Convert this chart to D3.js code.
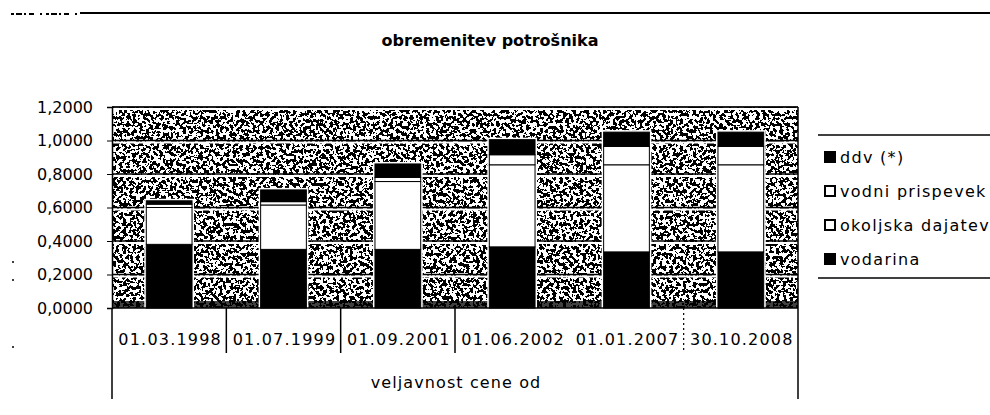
<!DOCTYPE html>
<html><head><meta charset="utf-8">
<script src="https://cdn.jsdelivr.net/npm/d3@7"></script>
<style>
html,body{margin:0;padding:0;background:#fff;}
svg{display:block;font-family:"DejaVu Sans",sans-serif;}
</style></head><body>
<svg id="chart" width="990" height="415"></svg>
<script>
// ---- data ----
const chartTitle = "obremenitev potrošnika";
const xAxisTitle = "veljavnost cene od";
const categories = ["01.03.1998","01.07.1999","01.09.2001","01.06.2002","01.01.2007","30.10.2008"];
const seriesNames = ["vodarina","okoljska dajatev","vodni prispevek","ddv (*)"];
const vodarina        = [0.380, 0.350, 0.350, 0.365, 0.335, 0.335];
const okoljskaDajatev = [0.220, 0.265, 0.405, 0.490, 0.520, 0.520];
const vodniPrispevek  = [0.020, 0.020, 0.025, 0.060, 0.110, 0.110];
const ddv             = [0.020, 0.070, 0.080, 0.090, 0.085, 0.085];
const yTicks = [0, 0.2, 0.4, 0.6, 0.8, 1.0, 1.2];

// ---- styles ----
const seriesFill = ["#000", "#fff", "#fff", "#000"];

const svg = d3.select("#chart");
const plot = {left: 112, right: 798, top: 107, bottom: 308};

const x = d3.scaleBand().domain(categories).range([plot.left, plot.right])
  .paddingInner(0.6).paddingOuter(0.3);
const xSlot = d3.scaleBand().domain(categories).range([plot.left, plot.right]).padding(0);
const y = d3.scaleLinear().domain([0, 1.2]).range([plot.bottom, plot.top]);

const rows = categories.map((c, i) => ({
  cat: c,
  "vodarina": vodarina[i],
  "okoljska dajatev": okoljskaDajatev[i],
  "vodni prispevek": vodniPrispevek[i],
  "ddv (*)": ddv[i]
}));
const stack = d3.stack().keys(seriesNames)(rows);

// ---- texture filter (scanned grey fill look) ----
const defs = svg.append("defs");
const f = defs.append("filter").attr("id", "scan")
  .attr("filterUnits", "userSpaceOnUse")
  .attr("x", plot.left).attr("y", plot.top)
  .attr("width", plot.right - plot.left).attr("height", plot.bottom - plot.top);
f.append("feTurbulence").attr("type", "fractalNoise").attr("baseFrequency", "0.3")
  .attr("numOctaves", 2).attr("seed", 7).attr("result", "t");
f.append("feColorMatrix").attr("type", "matrix")
  .attr("values", "1 0 0 0 0  1 0 0 0 0  1 0 0 0 0  0 0 0 0 1");
const ct = f.append("feComponentTransfer");
["feFuncR","feFuncG","feFuncB"].forEach(n => ct.append(n).attr("type", "discrete")
  .attr("tableValues", "0 0 0 0 0 1 1 1 1 1"));

// top rule and scan junk
svg.append("line").attr("x1", 80).attr("x2", 990).attr("y1", 13).attr("y2", 13)
  .attr("stroke", "#000").attr("stroke-width", 2);
svg.append("line").attr("x1", 11).attr("x2", 78).attr("y1", 14).attr("y2", 14)
  .attr("stroke", "#000").attr("stroke-width", 2).attr("stroke-dasharray", "3,2,6,2,2,3,5,6,2,4");
[262, 280, 347].forEach(v => svg.append("circle").attr("cx", 13).attr("cy", v).attr("r", 1).attr("fill", "#000"));

// title
svg.append("text").attr("x", 490).attr("y", 46).attr("text-anchor", "middle")
  .attr("font-size", 16).attr("font-weight", "bold")
  .text(chartTitle);

// plot background texture
svg.append("rect").attr("x", plot.left).attr("y", plot.top)
  .attr("width", plot.right - plot.left).attr("height", plot.bottom - plot.top)
  .attr("fill", "#fff").attr("filter", "url(#scan)");
svg.append("rect").attr("x", plot.left).attr("y", y(0) - 7)
  .attr("width", plot.right - plot.left).attr("height", 7)
  .attr("fill", "#000").attr("opacity", 0.75);

// gridlines
const grid = svg.append("g");
yTicks.filter(t => t > 0).forEach(t => {
  grid.append("line").attr("x1", plot.left).attr("x2", plot.right)
    .attr("y1", y(t) + 2).attr("y2", y(t) + 2).attr("stroke", "#fff").attr("stroke-width", 2);
  grid.append("line").attr("x1", plot.left).attr("x2", plot.right)
    .attr("y1", y(t)).attr("y2", y(t)).attr("stroke", "#000").attr("stroke-width", 1.5);
});

// bar halos
svg.append("g").selectAll("rect").data(rows).join("rect")
  .attr("x", d => x(d.cat) - 2).attr("width", x.bandwidth() + 4)
  .attr("y", (d, i) => y(stack[stack.length - 1][i][1]) - 2)
  .attr("height", (d, i) => y(0) - y(stack[stack.length - 1][i][1]) + 2)
  .attr("fill", "#fff");

// bars
svg.append("g").selectAll("g").data(stack).join("g")
  .attr("fill", (d, i) => seriesFill[i])
  .selectAll("rect").data(d => d).join("rect")
  .attr("x", d => x(d.data.cat)).attr("width", x.bandwidth())
  .attr("y", d => y(d[1])).attr("height", d => y(d[0]) - y(d[1]))
  .attr("stroke", "#000").attr("stroke-width", 1);

// plot border (top/right)
svg.append("line").attr("x1", plot.left).attr("x2", plot.right).attr("y1", plot.top).attr("y2", plot.top)
  .attr("stroke", "#000").attr("stroke-width", 1);
svg.append("line").attr("x1", plot.right).attr("x2", plot.right).attr("y1", plot.top).attr("y2", plot.bottom)
  .attr("stroke", "#000").attr("stroke-width", 1.5);

// y axis
const fmt = v => d3.format(".4f")(v).replace(".", ",");
const yAxis = svg.append("g").attr("transform", `translate(${plot.left},0)`)
  .call(d3.axisLeft(y).tickValues(yTicks).tickFormat(fmt).tickSizeOuter(0).tickSize(5).tickPadding(14));
yAxis.select(".domain").attr("stroke-width", 1.5);
yAxis.selectAll("text").attr("font-size", 16)
  .attr("font-family", "'DejaVu Sans',sans-serif").attr("fill", "#000");

// x axis: bottom line + category box
svg.append("line").attr("x1", plot.left).attr("x2", plot.right).attr("y1", plot.bottom).attr("y2", plot.bottom)
  .attr("stroke", "#000").attr("stroke-width", 1.5);
svg.append("line").attr("x1", plot.left).attr("x2", plot.left).attr("y1", plot.bottom).attr("y2", 399)
  .attr("stroke", "#000").attr("stroke-width", 1.5);
svg.append("line").attr("x1", plot.right).attr("x2", plot.right).attr("y1", plot.bottom).attr("y2", 399)
  .attr("stroke", "#000").attr("stroke-width", 1.5);
categories.slice(1).forEach((c, i) => {
  if (i === 3) return; // boundary lost in the scan
  svg.append("line").attr("x1", xSlot(c)).attr("x2", xSlot(c))
    .attr("y1", plot.bottom).attr("y2", 353)
    .attr("stroke", "#000").attr("stroke-width", i === 4 ? 1.2 : 1.5)
    .attr("stroke-dasharray", i === 4 ? "2,3" : null);
});
svg.append("g").selectAll("text").data(categories).join("text")
  .attr("x", d => xSlot(d) + xSlot.bandwidth() / 2 + 1).attr("y", 345)
  .attr("text-anchor", "middle").attr("font-size", 16).attr("letter-spacing", 1.2)
  .text(d => d);
svg.append("text").attr("x", 456).attr("y", 388).attr("text-anchor", "middle")
  .attr("font-size", 16).attr("letter-spacing", 1.1).text(xAxisTitle);

// legend
svg.append("line").attr("x1", 818).attr("x2", 990).attr("y1", 135).attr("y2", 135).attr("stroke", "#000").attr("stroke-width", 1.5);
svg.append("line").attr("x1", 818).attr("x2", 990).attr("y1", 278).attr("y2", 278).attr("stroke", "#000").attr("stroke-width", 1.5);
const legendOrder = seriesNames.map((n, i) => ({name: n, fill: seriesFill[i]})).reverse();
const lg = svg.append("g").selectAll("g").data(legendOrder).join("g")
  .attr("transform", (d, i) => `translate(825,${157 + i * 34})`);
lg.append("rect").attr("x", 0).attr("y", -5).attr("width", 10).attr("height", 10)
  .attr("fill", d => d.fill).attr("stroke", "#000").attr("stroke-width", 2);
lg.append("text").attr("x", 15).attr("y", 6).attr("font-size", 16).attr("letter-spacing", 1.3)
  .text(d => d.name);
</script>
</body></html>
